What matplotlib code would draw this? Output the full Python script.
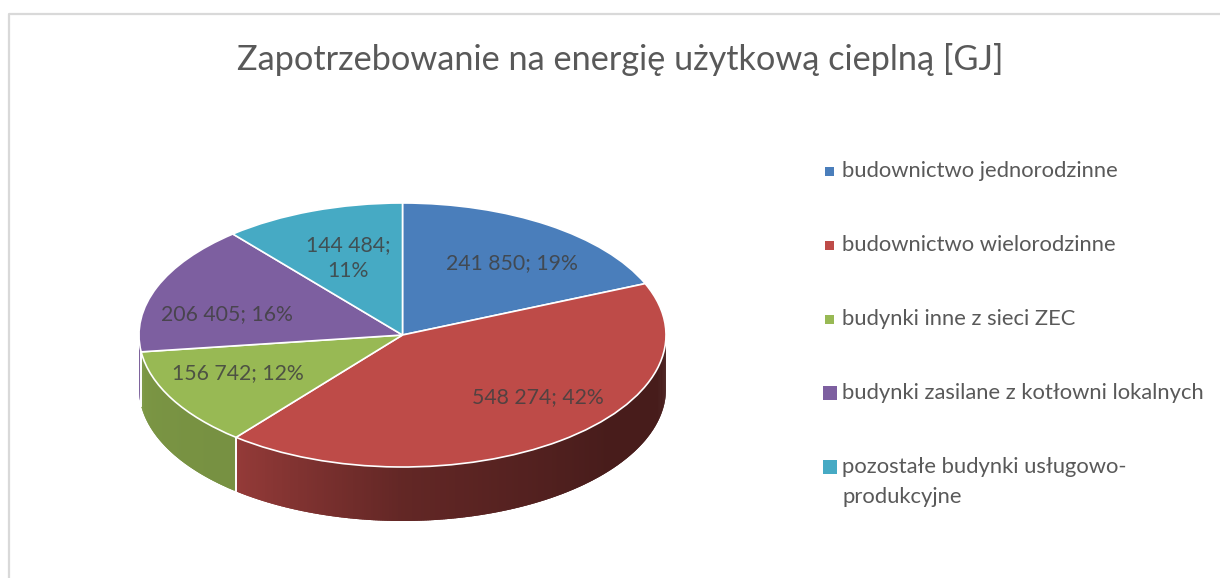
import numpy as np
import matplotlib
matplotlib.use("Agg")
import matplotlib.pyplot as plt
from matplotlib.patches import Rectangle

# dane wykresu
categories = [
    "budownictwo jednorodzinne",
    "budownictwo wielorodzinne",
    "budynki inne z sieci ZEC",
    "budynki zasilane z kotłowni lokalnych",
    "pozostałe budynki usługowo-\nprodukcyjne",
]
values = [241850, 548274, 156742, 206405, 144484]
value_labels = ["241 850; 19%", "548 274; 42%", "156 742; 12%", "206 405; 16%", "144 484;\n11%"]
title = "Zapotrzebowanie na energię użytkową cieplną [GJ]"

colors = ["#4a7ebb", "#be4b48", "#98b954", "#7d5fa0", "#46aac4"]

W, H = 1220, 578
CX, CY, RX, RY, DEPTH = 402.5, 335, 263.5, 132, 54
FONT = "Lato"
TEXT_COLOR = "#595959"


def side_shade(theta):
    # przyciemnienie sciany bocznej, theta w stopniach od gory, zgodnie z zegarem
    return np.interp(theta, [90, 130, 180, 219, 250, 262, 264, 270],
                     [0.37, 0.38, 0.52, 0.78, 0.80, 0.82, 0.95, 0.95])


def draw_side(ax, fractions, depth):
    start = 0.0
    for frac, color in zip(fractions, colors):
        end = start + frac * 360
        a, b = max(start, 90), min(end, 270)
        if b > a:
            edges = np.linspace(a, b, int((b - a) * 2) + 2)
            rgb = np.array(matplotlib.colors.to_rgb(color))
            for t0, t1 in zip(edges[:-1], edges[1:]):
                # pasek zachodzi na nastepny, zeby nie bylo widac szwow
                tt = np.radians(np.linspace(t0, min(t1 + 0.6, b), 5))
                x = np.sin(tt)
                y = np.cos(tt)
                c = np.clip(rgb * side_shade((t0 + t1) / 2), 0, 1)
                ax.fill(np.r_[x, x[::-1]], np.r_[y, y[::-1] - depth],
                        color=c, lw=0, zorder=1)
            # biala krawedz na styku scian
            for t in (a, b):
                if t not in (90, 270):
                    xe = np.sin(np.radians(t))
                    ye = np.cos(np.radians(t))
                    ax.plot([xe, xe], [ye, ye - depth], color="white", lw=1.2, zorder=2)
        start = end


def main():
    fig = plt.figure(figsize=(W / 100, H / 100), dpi=100, facecolor="white")

    # os pomocnicza w pikselach: ramka, tytul, legenda, etykiety
    over = fig.add_axes([0, 0, 1, 1], zorder=3)
    over.set_xlim(0, W)
    over.set_ylim(H, 0)
    over.axis("off")
    over.plot([9, 9, W], [H, 13.5, 13.5], color="#d9d9d9", lw=1.6)

    # kolo: spłaszczona os, sciana boczna dorysowana pod spodem
    depth = DEPTH / RY
    pie_ax = fig.add_axes([(CX - RX) / W, (H - CY - RY - DEPTH) / H,
                           2 * RX / W, (2 * RY + DEPTH) / H], zorder=2)
    total = sum(values)
    fractions = [v / total for v in values]
    draw_side(pie_ax, fractions, depth)
    pie_ax.pie(values, colors=colors, startangle=90, counterclock=False, radius=1,
               wedgeprops={"edgecolor": "white", "linewidth": 1.2, "zorder": 3})
    pie_ax.set_aspect("auto")
    pie_ax.set_xlim(-1, 1)
    pie_ax.set_ylim(-1 - depth, 1)
    pie_ax.axis("off")

    over.text(620, 60, title, ha="center", va="center", fontsize=24.7,
              color=TEXT_COLOR, family=FONT)

    label_pos = [(512, 263), (538, 397), (238, 373), (227, 314), (348, 258)]
    for (x, y), txt in zip(label_pos, value_labels):
        over.text(x, y, txt, ha="center", va="center", fontsize=15.3, color="#404040",
                  alpha=0.85, family=FONT, linespacing=1.35)

    # legenda
    legend_y = [170, 244, 318, 392, 466]
    square = [9, 9, 9, 14, 14]
    for name, y, s, color in zip(categories, legend_y, square, colors):
        cx = 829.5
        over.add_patch(Rectangle((cx - s / 2, y - s / 2 + 1), s, s, color=color, lw=0))
        # tekst dwuwierszowy centrowany miedzy liniami
        ty = y + 16 if "\n" in name else y + 1
        over.text(842, ty, name, ha="left", va="center",
                  fontsize=15.8, color=TEXT_COLOR, family=FONT, linespacing=1.58)

    fig.savefig("out.png", dpi=100)


if __name__ == "__main__":
    main()
